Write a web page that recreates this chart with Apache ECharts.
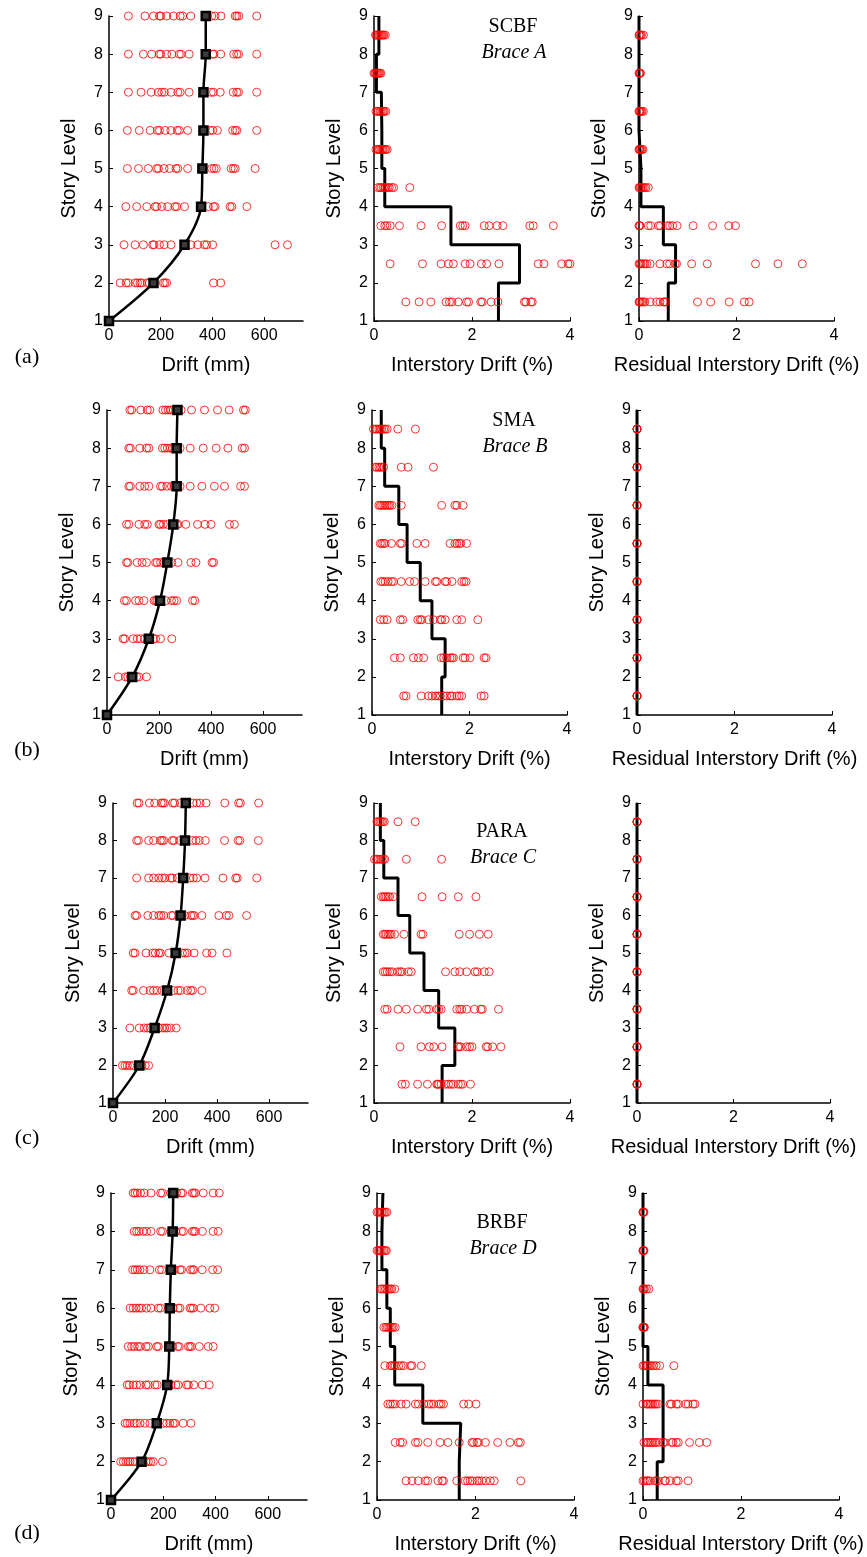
<!DOCTYPE html>
<html><head><meta charset="utf-8">
<script src="https://cdn.jsdelivr.net/npm/echarts@6/dist/echarts.min.js"></script>
<style>html,body{margin:0;padding:0;background:#fff}#c{width:867px;height:1557px}</style>
</head><body><div id="c"></div>
<script>
// ---------- category / tick data ----------
const storyLevels = [1, 2, 3, 4, 5, 6, 7, 8, 9];
const floorLevels = [2, 3, 4, 5, 6, 7, 8, 9];
const storyMidLevels = [1.5, 2.5, 3.5, 4.5, 5.5, 6.5, 7.5, 8.5];
const driftTicks = [0, 200, 400, 600];
const pctTicks = [0, 2, 4];
const rowLabels = ['(a)', '(b)', '(c)', '(d)'];
const systemNames = ['SCBF', 'SMA', 'PARA', 'BRBF'];
const braceNames = ['Brace A', 'Brace B', 'Brace C', 'Brace D'];
const xAxisNames = ['Drift (mm)', 'Interstory Drift (%)', 'Residual Interstory Drift (%)'];
const yAxisName = 'Story Level';

// ---------- (a) SCBF ----------
const scbfDrift = [
  [43, 66, 75, 101, 110, 120, 126, 148, 156, 210, 216, 223, 404, 432],
  [58, 101, 133, 169, 174, 195, 213, 240, 316, 343, 369, 378, 401, 642, 690],
  [65, 107, 146, 178, 184, 204, 227, 255, 262, 292, 384, 404, 410, 468, 475, 533],
  [71, 114, 152, 184, 191, 213, 234, 259, 266, 304, 397, 406, 415, 472, 481, 488, 565],
  [71, 117, 159, 187, 195, 217, 239, 264, 272, 304, 391, 401, 419, 478, 488, 494, 571],
  [75, 124, 163, 191, 204, 214, 240, 266, 275, 310, 395, 404, 430, 480, 494, 501, 571],
  [75, 133, 165, 194, 200, 223, 243, 272, 279, 310, 401, 406, 432, 482, 494, 501, 571],
  [75, 139, 172, 195, 200, 223, 249, 275, 285, 316, 397, 410, 433, 488, 494, 502, 571]
];
const scbfDriftMedian = [0, 172, 292, 356, 361, 365, 365, 374, 374];
const scbfIdr = [
  [0.65, 0.92, 1.16, 1.47, 1.54, 1.59, 1.72, 1.89, 1.93, 2.18, 2.21, 2.39, 2.53, 3.07, 3.10, 3.20, 3.23],
  [0.33, 0.99, 1.37, 1.52, 1.62, 1.86, 1.96, 2.19, 2.30, 2.55, 3.35, 3.47, 3.83, 3.96, 4.0],
  [0.14, 0.22, 0.26, 0.33, 0.52, 0.96, 1.38, 1.76, 1.81, 1.86, 2.25, 2.35, 2.51, 2.63, 3.18, 3.25, 3.66],
  [0.08, 0.12, 0.15, 0.19, 0.22, 0.24, 0.28, 0.31, 0.36, 0.40, 0.73],
  [0.04, 0.07, 0.1, 0.12, 0.15, 0.17, 0.19, 0.22, 0.24, 0.27],
  [0.04, 0.07, 0.09, 0.12, 0.14, 0.17, 0.19, 0.21, 0.24],
  [0.0, 0.02, 0.04, 0.06, 0.08, 0.1, 0.12, 0.14],
  [0.03, 0.05, 0.07, 0.1, 0.12, 0.14, 0.16, 0.18, 0.2, 0.23]
];
const scbfIdrMedian = [2.54, 2.97, 1.57, 0.22, 0.16, 0.15, 0.05, 0.10];
const scbfRidr = [
  [0, 0.01, 0.03, 0.06, 0.09, 0.12, 0.23, 0.36, 0.43, 0.5, 0.53, 0.55, 1.2, 1.47, 1.85, 2.16, 2.26],
  [0, 0.02, 0.04, 0.09, 0.12, 0.16, 0.23, 0.43, 0.57, 0.63, 0.74, 0.77, 1.08, 1.4, 2.39, 2.85, 3.35],
  [0, 0.01, 0.02, 0.19, 0.24, 0.4, 0.44, 0.58, 0.63, 0.69, 0.78, 1.11, 1.51, 1.84, 1.98],
  [0, 0.01, 0.03, 0.05, 0.08, 0.11, 0.14, 0.19],
  [0, 0.01, 0.02, 0.04, 0.06, 0.08],
  [0, 0.01, 0.02, 0.04, 0.06, 0.09],
  [0, 0.01, 0.02, 0.03],
  [0, 0.01, 0.03, 0.05, 0.09]
];
const scbfRidrMedian = [0.60, 0.75, 0.50, 0.04, 0, 0, 0, 0];

// ---------- (b) SMA ----------
const smaDrift = [
  [43, 71, 80, 90, 114, 123, 152],
  [62, 68, 101, 116, 129, 145, 178, 187, 206, 249],
  [67, 75, 110, 123, 142, 181, 187, 193, 226, 248, 258, 268, 329, 338],
  [75, 80, 116, 135, 152, 187, 193, 206, 219, 249, 273, 323, 342, 404, 410],
  [75, 84, 123, 145, 155, 200, 206, 217, 232, 268, 273, 303, 348, 377, 400, 471, 490],
  [84, 90, 126, 145, 161, 206, 213, 230, 248, 258, 281, 320, 365, 413, 452, 514, 529],
  [84, 90, 126, 152, 161, 213, 222, 232, 243, 252, 281, 320, 370, 420, 465, 520, 529],
  [88, 95, 130, 155, 165, 215, 225, 235, 245, 255, 285, 325, 375, 425, 470, 525, 532]
];
const smaDriftMedian = [0, 97, 161, 204, 232, 255, 268, 268, 271];
const smaIdr = [
  [0.65, 0.70, 1.01, 1.16, 1.23, 1.30, 1.35, 1.40, 1.47, 1.53, 1.60, 1.64, 1.74, 1.79, 1.84, 2.24, 2.30],
  [0.46, 0.58, 0.85, 0.95, 1.06, 1.42, 1.47, 1.53, 1.60, 1.64, 1.67, 1.87, 1.91, 2.01, 2.30, 2.34],
  [0.17, 0.24, 0.31, 0.58, 0.63, 0.94, 0.99, 1.02, 1.16, 1.26, 1.40, 1.43, 1.50, 1.74, 1.84, 2.17],
  [0.18, 0.22, 0.27, 0.33, 0.40, 0.44, 0.60, 0.77, 0.87, 1.09, 1.30, 1.33, 1.50, 1.53, 1.64, 1.84, 1.89, 1.93],
  [0.17, 0.20, 0.24, 0.27, 0.40, 0.58, 0.61, 0.92, 1.09, 1.60, 1.70, 1.74, 1.79, 1.82, 1.94],
  [0.14, 0.17, 0.20, 0.24, 0.27, 0.31, 0.34, 0.37, 0.41, 0.60, 1.43, 1.70, 1.74, 1.87],
  [0.07, 0.10, 0.14, 0.17, 0.20, 0.24, 0.60, 0.74, 1.26],
  [0.03, 0.07, 0.10, 0.14, 0.17, 0.20, 0.24, 0.27, 0.31, 0.53, 0.89]
];
const smaIdrMedian = [1.43, 1.50, 1.23, 0.99, 0.72, 0.55, 0.26, 0.19];
const smaRidr = [
  [0, 0, 0, 0], [0, 0, 0, 0], [0, 0, 0, 0], [0, 0, 0, 0],
  [0, 0, 0, 0], [0, 0, 0, 0], [0, 0, 0, 0], [0, 0, 0, 0]
];
const smaRidrMedian = [0, 0, 0, 0, 0, 0, 0, 0];

// ---------- (c) PARA ----------
const paraDrift = [
  [36, 46, 55, 65, 78, 111, 124, 137],
  [65, 101, 120, 133, 143, 176, 189, 199, 208, 221, 243],
  [72, 78, 117, 143, 156, 169, 189, 234, 250, 260, 286, 299, 306, 342],
  [78, 85, 127, 153, 163, 176, 182, 215, 267, 277, 286, 312, 360, 381, 438],
  [85, 91, 134, 156, 176, 185, 195, 224, 231, 276, 299, 306, 312, 342, 407, 436, 446, 514],
  [91, 137, 156, 176, 189, 199, 221, 228, 247, 296, 309, 322, 354, 423, 472, 478, 553],
  [91, 98, 137, 156, 182, 189, 195, 228, 234, 257, 306, 319, 332, 355, 429, 481, 488, 559],
  [93, 100, 140, 160, 185, 192, 198, 230, 237, 260, 308, 322, 335, 358, 430, 483, 490, 560]
];
const paraDriftMedian = [0, 101, 160, 208, 241, 260, 270, 277, 280];
const paraIdr = [
  [0.57, 0.64, 0.89, 1.09, 1.28, 1.30, 1.32, 1.37, 1.46, 1.52, 1.57, 1.62, 1.72, 1.77, 1.81, 1.97],
  [0.53, 0.96, 1.13, 1.22, 1.39, 1.71, 1.73, 1.77, 1.89, 1.95, 2.0, 2.29, 2.32, 2.42, 2.59],
  [0.22, 0.27, 0.49, 0.66, 0.89, 1.07, 1.12, 1.28, 1.32, 1.37, 1.69, 1.75, 1.79, 1.89, 2.05, 2.18, 2.21, 2.54],
  [0.19, 0.23, 0.27, 0.32, 0.37, 0.48, 0.53, 0.57, 0.70, 0.76, 1.46, 1.65, 1.75, 1.89, 2.06, 2.11, 2.25, 2.35],
  [0.19, 0.22, 0.25, 0.29, 0.32, 0.35, 0.42, 0.61, 0.96, 1.00, 1.74, 1.95, 2.15, 2.33],
  [0.15, 0.19, 0.22, 0.25, 0.29, 0.32, 0.39, 0.98, 1.39, 1.72, 2.08],
  [0.01, 0.05, 0.08, 0.12, 0.15, 0.19, 0.22, 0.66, 1.38],
  [0.06, 0.09, 0.12, 0.15, 0.18, 0.21, 0.49, 0.84]
];
const paraIdrMedian = [1.39, 1.65, 1.32, 1.02, 0.73, 0.49, 0.20, 0.13];
const paraRidr = [
  [0, 0, 0, 0], [0, 0, 0, 0], [0, 0, 0, 0], [0, 0, 0, 0],
  [0, 0, 0, 0], [0, 0, 0, 0], [0, 0, 0, 0], [0, 0, 0, 0]
];
const paraRidrMedian = [0, 0, 0, 0, 0, 0, 0, 0];

// ---------- (d) BRBF ----------
const brbfDrift = [
  [37, 47, 57, 66, 73, 83, 92, 134, 143, 152, 162, 197],
  [54, 62, 73, 89, 98, 111, 130, 149, 200, 213, 225, 238, 245, 276, 306],
  [62, 70, 85, 98, 111, 134, 143, 168, 177, 229, 248, 257, 289, 296, 317, 349, 376],
  [66, 79, 89, 102, 111, 134, 143, 175, 181, 236, 255, 261, 296, 302, 308, 338, 372, 391],
  [73, 85, 96, 107, 117, 136, 153, 181, 190, 238, 257, 264, 302, 308, 315, 344, 378, 397],
  [83, 92, 101, 111, 126, 149, 185, 194, 242, 264, 270, 304, 312, 317, 349, 389, 408],
  [89, 98, 107, 123, 136, 153, 190, 197, 229, 248, 270, 277, 311, 317, 323, 350, 391, 410],
  [85, 92, 101, 113, 127, 153, 190, 197, 229, 251, 268, 274, 311, 317, 323, 353, 391, 414]
];
const brbfDriftMedian = [0, 117, 175, 215, 223, 225, 229, 236, 238];
const brbfIdr = [
  [0.59, 0.71, 0.84, 0.98, 1.03, 1.24, 1.32, 1.35, 1.62, 1.79, 1.84, 1.89, 1.94, 2.03, 2.07, 2.13, 2.21, 2.30, 2.38, 2.92],
  [0.37, 0.47, 0.52, 0.78, 0.83, 1.03, 1.28, 1.44, 1.67, 1.93, 1.96, 2.03, 2.06, 2.20, 2.45, 2.70, 2.87, 2.91],
  [0.22, 0.27, 0.32, 0.37, 0.49, 0.59, 0.78, 0.84, 0.95, 1.05, 1.10, 1.15, 1.26, 1.30, 1.35, 1.76, 1.86, 2.01],
  [0.16, 0.27, 0.30, 0.34, 0.37, 0.44, 0.49, 0.54, 0.68, 0.71, 0.90],
  [0.14, 0.18, 0.21, 0.24, 0.27, 0.30, 0.33, 0.37],
  [0.07, 0.10, 0.14, 0.17, 0.20, 0.24, 0.27, 0.30, 0.36],
  [0.0, 0.03, 0.05, 0.08, 0.11, 0.14, 0.17, 0.19],
  [0.0, 0.03, 0.06, 0.09, 0.11, 0.14, 0.17, 0.20]
];
const brbfIdrMedian = [1.67, 1.70, 0.93, 0.36, 0.27, 0.20, 0.10, 0.12];
const brbfRidr = [
  [0, 0.03, 0.07, 0.10, 0.14, 0.24, 0.27, 0.31, 0.44, 0.46, 0.55, 0.68, 0.72, 0.92],
  [0.02, 0.07, 0.10, 0.14, 0.17, 0.20, 0.24, 0.27, 0.33, 0.41, 0.44, 0.58, 0.61, 0.68, 0.72, 0.95, 1.15, 1.30],
  [0, 0.07, 0.10, 0.14, 0.17, 0.20, 0.24, 0.27, 0.31, 0.55, 0.58, 0.68, 0.72, 0.87, 0.92, 1.02, 1.06],
  [0, 0.03, 0.07, 0.10, 0.14, 0.17, 0.22, 0.27, 0.34, 0.63],
  [0, 0, 0.01, 0.02, 0.03],
  [0, 0.01, 0.03, 0.07, 0.12],
  [0, 0, 0.01, 0.02],
  [0, 0, 0.01, 0.02]
];
const brbfRidrMedian = [0.29, 0.41, 0.41, 0.10, 0, 0, 0, 0];

// ---------- assemble ----------
const rowsData = [
  [scbfDrift, scbfDriftMedian, scbfIdr, scbfIdrMedian, scbfRidr, scbfRidrMedian],
  [smaDrift, smaDriftMedian, smaIdr, smaIdrMedian, smaRidr, smaRidrMedian],
  [paraDrift, paraDriftMedian, paraIdr, paraIdrMedian, paraRidr, paraRidrMedian],
  [brbfDrift, brbfDriftMedian, brbfIdr, brbfIdrMedian, brbfRidr, brbfRidrMedian]
];

// layout (pixels)
const rowTop = [16, 410, 803, 1193];
const rowBottom = [321, 715, 1103, 1500];
const colLeft = [[109, 374, 639], [107, 372, 637], [113, 374, 637], [111, 377, 643]];
const colRight = [[303, 570, 834], [302, 567, 832], [308, 570, 830], [307, 574, 839]];
const titleX = [513, 514, 502, 502];
const titleY = [27, 421, 832, 1223];
const rowLabelY = [357, 750, 1138, 1533];

function scatterPoints(byLevel, levels) {
  const out = [];
  byLevel.forEach((vals, i) => vals.forEach(v => out.push([v, levels[i]])));
  return out;
}
function stepPoints(medians) {
  const out = [];
  medians.forEach((m, i) => { out.push([m, storyLevels[i]]); out.push([m, storyLevels[i + 1]]); });
  return out;
}

const sans = '"Liberation Sans", Arial, Helvetica, sans-serif';
const serif = '"Liberation Serif", "Times New Roman", serif';

const grids = [], xAxes = [], yAxes = [], series = [], graphics = [];
for (let r = 0; r < 4; r++) {
  const d = rowsData[r];
  for (let c = 0; c < 3; c++) {
    const idx = r * 3 + c;
    grids.push({ left: colLeft[r][c], top: rowTop[r], width: colRight[r][c] - colLeft[r][c], height: rowBottom[r] - rowTop[r] });
    const isDrift = c === 0;
    xAxes.push({
      type: 'value', gridIndex: idx, min: 0, max: isDrift ? 750 : 4, interval: isDrift ? 200 : 2,
      name: xAxisNames[c], nameLocation: 'middle', nameGap: 34,
      nameTextStyle: { fontFamily: sans, fontSize: 20, color: '#000' },
      axisLine: { show: true, onZero: false, lineStyle: { color: '#000', width: 1.5 } },
      axisTick: { show: true, inside: true, length: 4, lineStyle: { color: '#000' }, customValues: isDrift ? driftTicks : pctTicks },
      axisLabel: { fontFamily: sans, fontSize: 16, color: '#000', margin: 7, customValues: isDrift ? driftTicks : pctTicks },
      splitLine: { show: false }
    });
    yAxes.push({
      type: 'value', gridIndex: idx, min: 1, max: 9, interval: 1,
      name: yAxisName, nameLocation: 'middle', nameGap: 30, nameRotate: 90,
      nameTextStyle: { fontFamily: sans, fontSize: 20, color: '#000' },
      axisLine: { show: true, onZero: false, lineStyle: { color: '#000', width: 1.5 } },
      axisTick: { show: true, inside: true, length: 4, lineStyle: { color: '#000' } },
      axisLabel: { fontFamily: sans, fontSize: 16, color: '#000', margin: 6 },
      splitLine: { show: false }
    });
    const scatterStyle = { color: 'rgba(0,0,0,0)', borderColor: '#ff0000', borderWidth: 1 };
    if (isDrift) {
      series.push({ type: 'scatter', xAxisIndex: idx, yAxisIndex: idx, symbol: 'circle', symbolSize: 8,
        itemStyle: scatterStyle, data: scatterPoints(d[0], floorLevels), z: 2, silent: true });
      series.push({ type: 'line', xAxisIndex: idx, yAxisIndex: idx, smooth: 0.3,
        data: d[1].map((m, i) => [m, storyLevels[i]]),
        lineStyle: { color: '#000', width: 2.5 }, symbol: 'rect', symbolSize: 8, showSymbol: true,
        itemStyle: { color: '#3a3a3a', borderColor: '#000', borderWidth: 2.5 }, z: 3, silent: true });
    } else {
      const sIdx = c === 1 ? 2 : 4;
      series.push({ type: 'line', xAxisIndex: idx, yAxisIndex: idx, data: stepPoints(d[sIdx + 1]),
        showSymbol: false, symbol: 'none', lineStyle: { color: '#000', width: 3 }, z: 2, silent: true });
      series.push({ type: 'scatter', xAxisIndex: idx, yAxisIndex: idx, symbol: 'circle', symbolSize: 8,
        itemStyle: scatterStyle, data: scatterPoints(d[sIdx], storyMidLevels), z: 3, silent: true });
    }
  }
  graphics.push({ type: 'text', x: titleX[r], y: titleY[r], style: { text: systemNames[r], font: '20px ' + serif, fill: '#000', textAlign: 'center', textVerticalAlign: 'middle' } });
  graphics.push({ type: 'text', x: titleX[r] + 1, y: titleY[r] + 26, style: { text: braceNames[r], font: 'italic 20px ' + serif, fill: '#000', textAlign: 'center', textVerticalAlign: 'middle' } });
  graphics.push({ type: 'text', x: 27, y: rowLabelY[r], style: { text: rowLabels[r], font: '22px ' + serif, fill: '#000', textAlign: 'center', textVerticalAlign: 'middle' } });
}

const chart = echarts.init(document.getElementById('c'), null, { renderer: 'canvas' });
chart.setOption({
  backgroundColor: '#fff',
  animation: false,
  grid: grids, xAxis: xAxes, yAxis: yAxes, series: series, graphic: graphics
});
</script></body></html>
